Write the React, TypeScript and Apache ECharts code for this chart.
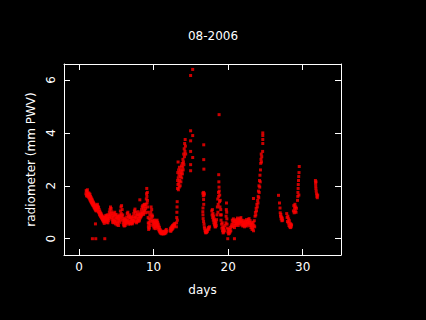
import React, { useEffect, useRef } from "react";
import * as echarts from "echarts";

const title = "08-2006";
const xName = "days";
const yName = "radiometer (mm PWV)";
const xTicks = [0, 10, 20, 30];
const yTicks = [0, 2, 4, 6];

const seg1: number[][] = [
  [0.92,1.7],[0.96,1.82],[1.0,1.62],[1.04,1.78],[1.08,1.68],[1.12,1.85],[1.16,1.6],[1.2,1.74],[1.25,1.66],[1.3,1.55],[1.34,1.72],[1.38,1.62],[1.42,1.5],[1.46,1.68],[1.5,1.45],[1.54,1.6],[1.58,1.4],[1.62,1.55],[1.66,1.36],[1.7,1.5],[1.74,1.32],[1.78,1.46],[1.82,1.28],[1.86,1.4],[1.9,1.25],[1.94,1.36],[1.98,1.2],[2.02,1.32],[2.06,1.16],[2.1,1.28],[2.14,1.12],[2.18,1.24],[2.22,1.08],[2.26,1.2],[2.3,1.05],[2.34,1.16],[2.38,1.25],[2.42,1.1],[2.46,1.3],[2.5,1.15],[2.54,1.22],[2.58,1.02],[2.62,1.18],[2.66,0.98],[2.7,1.1],[2.74,0.92],[2.78,1.04],[2.82,0.88],[2.86,0.98],[2.9,0.84],[2.94,0.95],[2.98,0.8],[3.02,0.9],[3.06,0.76],[3.1,0.86],[3.14,0.72],[3.18,0.82],[3.22,0.68],[3.26,0.8],[3.3,0.64],[3.34,0.76],[3.38,0.58],[3.42,0.72],[3.46,0.82],[3.5,0.66],[3.54,0.78],[3.58,0.88],[3.62,0.7],[3.66,0.84],[3.7,0.62],[3.74,0.76],[3.78,0.9],[3.82,0.72],[3.86,0.6],[3.9,0.8],[3.94,0.68],[3.98,0.9],[4.02,0.76],[4.06,1.0],[4.1,0.84],[4.14,1.1],[4.18,0.9],[4.22,1.2],[4.26,0.96],[4.3,1.14],[4.34,0.8],[4.38,1.02],[4.42,0.72],[4.46,0.9],
  [1.79,0.0],[2.24,0.0],[3.45,0.0],[2.2,0.56]
];

const seg2: number[][] = [
  [4.5,0.62],[4.54,0.82],[4.58,0.7],[4.62,0.95],[4.66,0.6],[4.7,0.85],[4.74,0.72],[4.78,1.0],[4.82,0.66],[4.86,0.9],[4.9,0.56],[4.94,0.78],[4.98,0.92],[5.02,0.64],[5.06,0.82],[5.1,0.52],[5.14,0.74],[5.18,0.86],[5.22,0.6],[5.26,0.78],[5.3,0.5],[5.34,0.7],[5.38,0.84],[5.42,0.62],[5.46,0.9],[5.5,0.72],[5.54,1.05],[5.58,0.8],[5.62,1.2],[5.66,0.95],[5.7,1.25],[5.74,0.85],[5.78,1.1],[5.82,0.7],[5.86,0.9],[5.9,0.6],[5.94,0.78],[5.98,0.52],[6.02,0.7],[6.06,0.48],[6.1,0.62],[6.14,0.75],[6.18,0.5],[6.22,0.66],[6.26,0.56],[6.3,0.72],[6.34,0.6],[6.38,0.82],[6.42,0.66],[6.46,0.95],[6.5,0.7],[6.54,1.0],[6.58,0.62],[6.62,0.85],[6.66,0.55],[6.7,0.78],[6.74,0.6],[6.78,0.9],[6.82,0.65],[6.86,0.8],[6.9,0.56],[6.94,0.72],[6.98,0.58],[7.02,0.82],[7.06,0.64],[7.1,0.76],[7.14,0.56],[7.18,0.7],[7.22,0.6],[7.26,0.84],[7.3,0.66],[7.34,0.95],[7.38,0.7],[7.42,1.05],[7.46,0.78],[7.5,1.12],[7.54,0.82],[7.58,1.0],[7.62,0.66],[7.66,0.88],[7.7,0.6],[7.74,0.78],[7.78,0.64],[7.82,0.92],[7.86,0.7],[7.9,1.02],[7.94,0.76],[7.98,0.9],[8.02,0.66],[8.06,0.84],[8.1,0.7],[8.14,0.9],[8.18,0.78],[8.22,0.94],[8.26,0.82],[8.3,1.0],[8.34,0.86],[8.38,1.1],[8.42,0.9],[8.46,1.2],[8.5,0.96],[8.54,1.25],[8.58,1.0],[8.62,1.15],[8.66,0.92],[8.7,1.28],[8.74,1.05],[8.78,1.3],[8.82,1.08],[8.86,1.22],[8.9,0.98],[8.94,1.15],[8.98,1.3],
  [8.15,1.47]
];

const seg3: number[][] = [
  [9.02,1.5],[9.05,1.7],[9.08,1.9],[9.1,1.6],[9.13,1.35],[9.16,1.75],[9.18,1.45],[9.2,1.2],[9.23,1.0],[9.26,0.8],[9.28,0.6],[9.3,0.45],[9.33,0.35],[9.36,0.55],[9.4,0.75],[9.43,0.4],[9.46,0.62],[9.5,0.9],[9.54,0.5],[9.58,0.7],[9.62,1.0],[9.66,1.2],[9.7,0.8],[9.74,1.1],[9.78,0.9],[9.82,0.65],[9.86,0.85],[9.9,0.55],[9.94,0.7],[9.98,0.48],[10.02,0.62],[10.06,0.4],[10.1,0.56],[10.14,0.7],[10.18,0.45],[10.22,0.6],[10.26,0.38],[10.3,0.52],[10.34,0.66],[10.38,0.46],[10.42,0.58],[10.46,0.7],[10.5,0.5],[10.54,0.62],[10.58,0.42],[10.62,0.55],[10.66,0.36],[10.7,0.48],[10.74,0.3],[10.78,0.42],[10.82,0.26],[10.86,0.35],[10.9,0.22],[10.95,0.3],[11.0,0.2],[11.05,0.26],[11.1,0.18],[11.15,0.24],[11.2,0.2],[11.25,0.28],[11.3,0.18],[11.35,0.22],[11.4,0.2],[11.45,0.27],[11.5,0.19],[11.55,0.24],[11.6,0.3],[11.65,0.22],[11.7,0.35],[11.75,0.28],
  [12.2,0.3],[12.25,0.38],[12.3,0.28],[12.35,0.42],[12.4,0.33],[12.45,0.46],[12.5,0.36],[12.55,0.5],[12.6,0.4],[12.65,0.52],[12.7,0.45],[12.75,0.55],[12.8,0.5],[12.85,0.58]
];

const seg4: number[][] = [
  [13.05,0.45],[13.08,0.6],[13.1,0.8],[13.12,1.0],[13.14,1.2],[13.16,1.4],[13.18,0.7],[13.2,1.9],[13.22,2.2],[13.24,2.5],[13.26,2.05],[13.28,2.9],[13.3,2.3],[13.32,1.85],[13.35,2.6],[13.38,2.1],[13.4,2.4],[13.43,1.95],[13.46,2.7],[13.5,2.2],[13.53,2.5],[13.56,2.0],[13.6,2.35],[13.63,2.6],[13.66,2.15],[13.7,2.45],[13.73,2.75],[13.76,2.3],[13.8,2.55],[13.83,2.85],[13.86,2.45],[13.9,2.7],[13.93,3.0],[13.96,2.6],[14.0,2.9],[14.03,3.2],[14.06,2.8],[14.1,3.4],[14.13,3.1],[14.16,3.6],[14.2,3.3],[14.23,3.75],[14.26,3.5],[14.3,3.2],
  [14.96,6.17],[15.24,6.4],[14.96,4.08],[15.24,3.9],[14.96,3.7],[14.96,3.3],[15.24,3.07],[14.96,2.8],[14.96,2.57]
];

const seg5: number[][] = [
  [16.72,3.55],[16.72,2.99],[16.74,2.63],[16.6,1.72],[16.66,1.62],[16.7,1.75],[16.76,1.65],[16.8,1.7],[16.7,1.48],[16.72,1.3],[16.62,1.16],[16.6,1.02],[16.62,0.9],[16.64,0.76],[16.7,0.65],[16.76,0.55],[16.8,0.44],[16.85,0.38],[16.9,0.3],[16.95,0.25],[17.0,0.22],[17.05,0.28],[17.1,0.24],[17.15,0.32],[17.2,0.27],[17.28,0.36],[17.35,0.42],[17.42,0.36],[17.5,0.45],
  [17.8,1.05],[17.84,0.9],[17.88,1.1],[17.92,0.8],[17.96,0.95],[18.0,0.7],[18.04,0.85],[18.08,0.6],[18.12,0.75],[18.16,0.52],[18.2,0.68],[18.24,0.45],[18.28,0.58],[18.32,0.45],[18.36,0.62],[18.4,0.5],[18.44,0.72],
  [18.5,0.9],[18.55,1.2],[18.6,1.5],[18.62,1.0],[18.66,1.3],[18.7,1.75],[18.73,2.42],[18.75,2.15],[18.77,1.95],[18.72,1.6],[18.8,1.8],[18.84,1.4],[18.86,1.65],[18.9,1.2],[18.93,1.45],[18.78,4.69],[18.96,0.9],[19.0,1.1],[19.04,0.7],[19.08,0.9],
  [19.12,0.55],[19.16,0.4],[19.2,0.6],[19.24,0.3],[19.28,0.45],[19.32,0.22],[19.36,0.35],[19.4,0.25],[19.45,0.4],[19.5,0.3],[19.55,0.5],
  [19.7,0.6],[19.72,0.85],[19.75,1.1],[19.77,1.35],[19.8,1.0],[19.82,0.75],[19.85,0.55],
  [19.9,0.4],[19.95,0.25],[20.0,0.35],[20.05,0.18],[20.1,0.28],[20.15,0.2],[20.2,0.35],[20.25,0.25],[20.3,0.42],[20.35,0.3],[20.4,0.48],
  [19.94,0.0],[20.84,0.0]
];

const seg6: number[][] = [
  [20.5,0.55],[20.55,0.7],[20.6,0.45],[20.65,0.62],[20.7,0.75],[20.75,0.5],[20.8,0.66],[20.85,0.42],[20.9,0.58],[20.95,0.7],[21.0,0.5],[21.05,0.65],[21.1,0.55],[21.15,0.72],[21.2,0.6],[21.25,0.78],[21.3,0.62],[21.35,0.5],[21.4,0.68],[21.45,0.56],[21.5,0.72],[21.55,0.6],[21.6,0.76],[21.65,0.64],[21.7,0.8],[21.75,0.66],[21.8,0.52],[21.85,0.7],[21.9,0.58],[21.95,0.48],[22.0,0.62],[22.05,0.52],[22.1,0.68],[22.15,0.55],[22.2,0.45],[22.25,0.6],[22.3,0.5],[22.35,0.66],[22.4,0.55],[22.45,0.72],[22.5,0.6],[22.55,0.48],[22.6,0.65],[22.65,0.55],[22.7,0.72],[22.75,0.6],[22.8,0.76],[22.85,0.62],[22.9,0.5],[22.95,0.68],[23.0,0.55],[23.05,0.42],[23.1,0.6],[23.15,0.48],[23.2,0.35],[23.25,0.55],[23.3,0.4],[23.35,0.62],[23.4,0.3],[23.45,0.5],[23.5,0.68],[23.55,0.45],
  [23.39,1.52],
  [23.6,0.85],[23.65,1.0],[23.7,0.9],[23.75,1.15],[23.8,1.05],[23.85,1.3],[23.9,1.2],[23.95,1.45],[24.0,1.35],[24.03,1.6],[24.06,1.8],[24.1,1.55],[24.13,2.0],[24.16,1.75],[24.2,2.2],[24.23,1.95],[24.26,2.4],[24.3,2.15],[24.33,2.6],[24.36,2.85],[24.4,3.0],[24.43,3.2],[24.46,2.9],[24.5,3.1],
  [24.64,4.0],[24.64,3.9],[24.64,3.75],[24.64,3.6],[24.62,3.3]
];

const seg7: number[][] = [
  [26.75,1.64],[26.88,1.35],[26.95,1.16],[26.98,0.98],[27.02,0.85],[27.06,0.92],[27.1,0.75],[27.15,0.82],[27.2,0.68],[27.25,0.78],[27.3,0.7],
  [27.85,0.95],[27.9,0.8],[27.95,0.65],[28.0,0.85],[28.05,0.6],[28.1,0.75],[28.15,0.5],[28.2,0.68],[28.25,0.45],[28.3,0.58],[28.35,0.42],[28.4,0.55],[28.45,0.45],[28.5,0.52],
  [28.75,1.05],[28.8,1.25],[28.85,0.98],[28.9,1.15],[28.95,1.3],[29.0,1.05],[29.05,1.2],[29.1,1.0],[29.15,1.15],
  [29.3,1.45],[29.33,1.6],[29.35,1.75],[29.38,1.9],[29.4,2.05],[29.43,2.2],[29.46,2.35],[29.5,2.5],[29.53,2.73],[29.48,1.65]
];

const seg8: number[][] = [
  [31.7,2.2],[31.72,2.1],[31.74,2.0],[31.76,1.9],[31.8,1.8],[31.85,1.7],[31.9,1.6],[31.95,1.55],[32.0,1.65],[31.78,2.15]
];

const segments = [seg1, seg2, seg3, seg4, seg5, seg6, seg7, seg8];

export default function App() {
  const ref = useRef<HTMLDivElement>(null);
  useEffect(() => {
    if (!ref.current) return;
    const chart = echarts.init(ref.current, null, { renderer: "svg" });
    const font = "DejaVu Sans";
    const xMin = -2.02, xMax = 35.13, yMin = -0.616, yMax = 6.605;
    const axisLine = { show: true, onZero: false, lineStyle: { color: "#fff", width: 1 } };
    const tick = (vals: number[]) => ({ show: true, inside: true, length: 6, lineStyle: { color: "#fff" }, customValues: vals });
    chart.setOption({
      animation: false,
      backgroundColor: "#000",
      title: {
        text: title,
        left: "center",
        top: 25,
        textStyle: { color: "#fff", fontFamily: font, fontSize: 12, fontWeight: "normal" },
      },
      grid: { left: 64, top: 64, width: 277, height: 191 },
      xAxis: [
        {
          type: "value", position: "bottom", min: xMin, max: xMax,
          axisLine, splitLine: { show: false },
          name: xName, nameLocation: "middle", nameGap: 29,
          nameTextStyle: { color: "#fff", fontFamily: font, fontSize: 12 },
          axisTick: tick(xTicks),
          axisLabel: { show: true, color: "#fff", fontFamily: font, fontSize: 12, margin: 6, customValues: xTicks },
        },
        {
          type: "value", position: "top", min: xMin, max: xMax,
          axisLine, splitLine: { show: false },
          axisTick: tick(xTicks),
          axisLabel: { show: false },
        },
      ],
      yAxis: [
        {
          type: "value", position: "left", min: yMin, max: yMax,
          axisLine, splitLine: { show: false },
          name: yName, nameLocation: "middle", nameGap: 20, nameRotate: 90,
          nameTextStyle: { color: "#fff", fontFamily: font, fontSize: 12 },
          axisTick: tick(yTicks),
          axisLabel: { show: true, color: "#fff", fontFamily: font, fontSize: 12, margin: 7, rotate: 90, customValues: yTicks },
        },
        {
          type: "value", position: "right", min: yMin, max: yMax,
          axisLine, splitLine: { show: false },
          axisTick: tick(yTicks),
          axisLabel: { show: false },
        },
      ],
      series: segments.map((seg) => ({
        type: "scatter",
        xAxisIndex: 0,
        yAxisIndex: 0,
        symbol: "rect",
        symbolSize: 3,
        itemStyle: { color: "#ff0000" },
        data: seg,
      })),
    });
    return () => chart.dispose();
  }, []);
  return (
    <div
      ref={ref}
      style={{ position: "fixed", left: 0, top: 0, width: 426, height: 320 }}
    />
  );
}
